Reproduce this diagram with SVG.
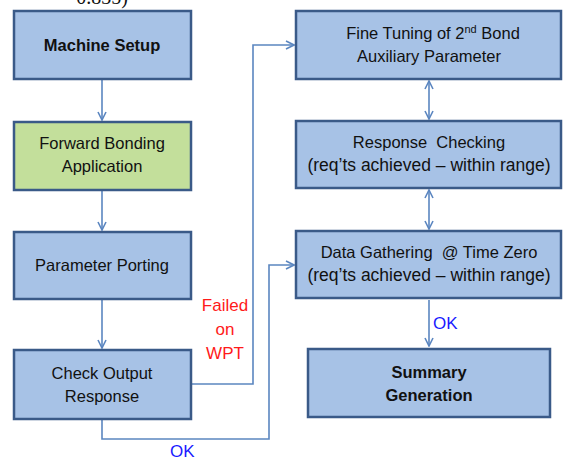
<svg xmlns="http://www.w3.org/2000/svg" width="563" height="459" viewBox="0 0 563 459">
<style>
.box{fill:#a7c2e6;stroke:#3a5a88;stroke-width:2.5}
.green{fill:#c3df9b}
.t{font-family:"Liberation Sans",Arial,sans-serif;font-size:16.5px;fill:#111;text-anchor:middle}
.b{font-weight:bold;font-size:16.5px}
.w{font-size:17.5px}
.c{fill:none;stroke:#5b86c0;stroke-width:1.6}
.red{font-family:"Liberation Sans",Arial,sans-serif;font-size:17px;fill:#ff1a1a;text-anchor:middle}
.blue{font-family:"Liberation Sans",Arial,sans-serif;font-size:17px;fill:#1a1aff}
</style>
<defs>
<marker id="ah" viewBox="0 0 10 10" refX="9" refY="5" markerWidth="10" markerHeight="10" markerUnits="userSpaceOnUse" orient="auto-start-reverse">
<path d="M1,1 L9,5 L1,9" fill="none" stroke="#5b86c0" stroke-width="1.6"/>
</marker>
</defs>
<rect width="563" height="459" fill="#fff"/>
<text x="102" y="4" class="t" style="font-size:20px;font-family:'Liberation Serif',serif">0.835)</text>
<g id="connectors">
<line class="c" x1="102" y1="80" x2="102" y2="120" marker-end="url(#ah)"/>
<line class="c" x1="102" y1="191" x2="102" y2="230" marker-end="url(#ah)"/>
<line class="c" x1="102" y1="300" x2="102" y2="348" marker-end="url(#ah)"/>
<polyline class="c" points="192,384 253,384 253,45 294,45" marker-end="url(#ah)"/>
<polyline class="c" points="102,420 102,439 269,439 269,265 294,265" marker-end="url(#ah)"/>
<line class="c" x1="429" y1="81" x2="429" y2="119" marker-start="url(#ah)" marker-end="url(#ah)"/>
<line class="c" x1="429" y1="190" x2="429" y2="229" marker-start="url(#ah)" marker-end="url(#ah)"/>
<line class="c" x1="429" y1="300" x2="429" y2="346" marker-end="url(#ah)"/>
<text x="225" y="311" class="red">Failed</text>
<text x="225" y="335" class="red">on</text>
<text x="225" y="359" class="red">WPT</text>
<text x="170" y="457" class="blue">OK</text>
<text x="433" y="329" class="blue">OK</text>
</g>
<g id="machine-setup">
<rect class="box" x="14" y="11" width="177" height="68"/>
<text x="102" y="51" class="t b">Machine Setup</text>
</g>
<g id="forward-bonding">
<rect class="box green" x="14" y="122" width="177" height="68"/>
<text x="102" y="149" class="t">Forward Bonding</text>
<text x="102" y="172" class="t">Application</text>
</g>
<g id="parameter-porting">
<rect class="box" x="14" y="232" width="177" height="67"/>
<text x="102" y="271" class="t">Parameter Porting</text>
</g>
<g id="check-output">
<rect class="box" x="14" y="350" width="177" height="69"/>
<text x="102" y="379" class="t">Check Output</text>
<text x="102" y="402" class="t">Response</text>
</g>
<g id="fine-tuning">
<rect class="box" x="296" y="11" width="265" height="68"/>
<text x="433" y="39" class="t">Fine Tuning of 2<tspan dy="-6" font-size="11">nd</tspan><tspan dy="6"> Bond</tspan></text>
<text x="429" y="62" class="t">Auxiliary Parameter</text>
</g>
<g id="response-checking">
<rect class="box" x="296" y="121" width="265" height="67"/>
<text x="429" y="148" class="t">Response&#160; Checking</text>
<text x="429" y="171" class="t w">(req’ts achieved – within range)</text>
</g>
<g id="data-gathering">
<rect class="box" x="296" y="231" width="265" height="67"/>
<text x="429" y="258" class="t">Data Gathering&#160; @ Time Zero</text>
<text x="429" y="281" class="t w">(req’ts achieved – within range)</text>
</g>
<g id="summary-generation">
<rect class="box" x="308" y="349" width="242" height="68"/>
<text x="429" y="378" class="t b">Summary</text>
<text x="429" y="401" class="t b">Generation</text>
</g>
</svg>
